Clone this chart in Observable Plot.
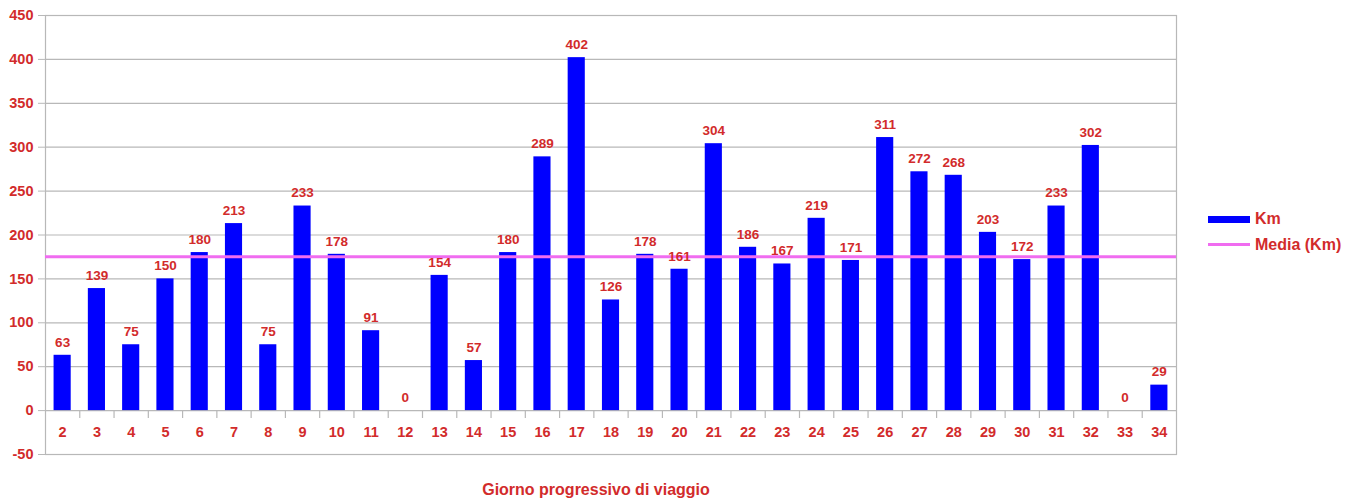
<!DOCTYPE html>
<html>
<head>
<meta charset="utf-8">
<script src="https://cdn.jsdelivr.net/npm/d3@7"></script>
<script src="https://cdn.jsdelivr.net/npm/@observablehq/plot@0.6"></script>
<style>
  html, body { margin: 0; padding: 0; background: #fff; }
  body { font-family: "Liberation Sans", Arial, sans-serif; }
  #wrap { position: relative; width: 1361px; height: 499px; }
  .txt { position: absolute; color: #d22b2b; font-weight: bold; white-space: nowrap; }
  .sw { position: absolute; }
</style>
</head>
<body>
<div id="wrap">
  <div id="chart"></div>
  <div class="sw" id="swKm"></div>
  <div class="txt" id="lbKm"></div>
  <div class="sw" id="swMedia"></div>
  <div class="txt" id="lbMedia"></div>
  <div class="txt" id="caption"></div>
</div>
<script>
const days = [2,3,4,5,6,7,8,9,10,11,12,13,14,15,16,17,18,19,20,21,22,23,24,25,26,27,28,29,30,31,32,33,34];
const km   = [63,139,75,150,180,213,75,233,178,91,0,154,57,180,289,402,126,178,161,304,186,167,219,171,311,272,268,203,172,233,302,0,29];
const yTicks = [-50,0,50,100,150,200,250,300,350,400,450];
const seriesNames = ["Km", "Media (Km)"];
const xTitle = "Giorno progressivo di viaggio";

const RED = "#d22b2b";
const BLUE = "#0000ff";
const VIOLET = "#f06cf0";
const GRID = "#b8b8b8";

const data = days.map((d, i) => ({day: d, km: km[i]}));
const media = d3.mean(km);
const boundaries = days.slice(1).map(d => d - 0.5);

const chart = Plot.plot({
  width: 1361,
  height: 470,
  marginTop: 15,
  marginBottom: 16,
  marginLeft: 45,
  marginRight: 185,
  style: {fontFamily: "'Liberation Sans', Arial, sans-serif", background: "#fff"},
  x: {type: "linear", domain: [days[0] - 0.5, days[days.length - 1] + 0.5], axis: null},
  y: {domain: [yTicks[0], yTicks[yTicks.length - 1]], axis: null},
  marks: [
    Plot.ruleY(yTicks, {stroke: GRID, strokeWidth: 1.2}),
    Plot.frame({stroke: GRID, strokeWidth: 1.2}),
    Plot.axisY(yTicks, {label: null, tickFormat: d => String(d), tickSize: 7, tickPadding: 5, stroke: GRID, fill: RED, fontWeight: "bold", fontSize: 14.5}),
    Plot.ruleX(boundaries, {x: d => d, y1: 0, y2: -9, stroke: GRID, strokeWidth: 1.2}),
    Plot.rectY(data, {x1: d => d.day - 0.25, x2: d => d.day + 0.25, y1: 0, y2: "km", fill: BLUE}),
    Plot.ruleY([media], {stroke: VIOLET, strokeWidth: 3}),
    Plot.text(data, {x: "day", y: "km", text: d => String(d.km), dy: -13, fill: RED, fontWeight: "bold", fontSize: 13.5}),
    Plot.text(data, {x: "day", y: 0, text: d => String(d.day), dy: 22, fill: RED, fontWeight: "bold", fontSize: 14.5})
  ]
});
document.getElementById("chart").appendChild(chart);

// legend
const swKm = document.getElementById("swKm");
Object.assign(swKm.style, {left: "1208px", top: "216px", width: "42px", height: "7px", background: BLUE});
const lbKm = document.getElementById("lbKm");
lbKm.textContent = seriesNames[0];
Object.assign(lbKm.style, {left: "1255px", top: "210px", fontSize: "16px", lineHeight: "18px"});
const swMedia = document.getElementById("swMedia");
Object.assign(swMedia.style, {left: "1208px", top: "243px", width: "42px", height: "3px", background: VIOLET});
const lbMedia = document.getElementById("lbMedia");
lbMedia.textContent = seriesNames[1];
Object.assign(lbMedia.style, {left: "1255px", top: "236px", fontSize: "16px", lineHeight: "18px"});

// caption
const cap = document.getElementById("caption");
cap.textContent = xTitle;
Object.assign(cap.style, {left: "0px", top: "481px", width: "1192px", textAlign: "center", fontSize: "16px", lineHeight: "18px"});
</script>
</body>
</html>
